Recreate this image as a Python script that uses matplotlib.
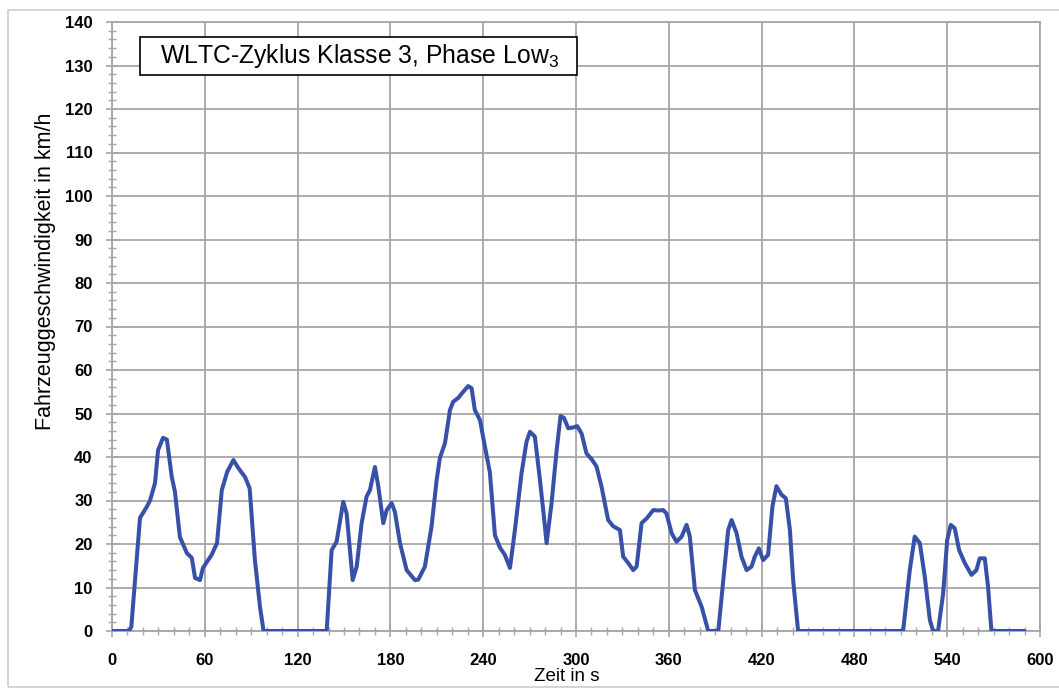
import matplotlib
matplotlib.use("Agg")
import matplotlib.pyplot as plt
from matplotlib.patches import Rectangle
from matplotlib.ticker import MultipleLocator

plt.rcParams['font.family'] = ['Liberation Sans', 'DejaVu Sans']
plt.rcParams['mathtext.fontset'] = 'custom'
plt.rcParams['mathtext.rm'] = 'Liberation Sans'

# Geschwindigkeitsverlauf (Zeit in s, km/h)
zeit = [0, 11, 12.5, 18.1, 22.4, 24.6, 27.8, 29.8, 33, 35.5, 38.6, 40.7, 43.9,
        48.4, 51.6, 53.7, 56.9, 58.8, 64.4, 67.9, 71, 74.5, 78.5, 81.6, 86, 89,
        92.4, 95.7, 98, 138.8, 142, 145.2, 149.5, 151.7, 155.6, 158.2, 161.4,
        164.6, 166.8, 170, 172.2, 175.4, 177.6, 180.8, 182.9, 186.2, 190.5,
        195.9, 198, 202.3, 206.6, 209.9, 212, 215.3, 218.5, 220.6, 223.9, 227.1,
        230.3, 232.5, 234.6, 237.9, 241.1, 244.3, 247.6, 250.8, 254, 257.3,
        260.5, 264.8, 268, 270.2, 273.4, 276.7, 278.8, 281, 284.2, 287.5, 290,
        292.2, 295, 298.2, 300.8, 303.6, 306.8, 310.1, 313.3, 316.5, 320.8, 324,
        328.4, 330.5, 333.8, 337, 339.2, 342.4, 345.7, 350, 353.2, 356.4, 358.5,
        361.8, 365, 368.3, 371.5, 373.6, 376.9, 381.2, 385.5, 392, 395.2, 398.4,
        400.6, 403.8, 407, 410.3, 413.5, 415.6, 418.2, 421, 424.2, 427, 429.6,
        432.9, 435.7, 438.3, 440.4, 443.6, 511.5, 515.8, 519, 522.3, 525.5,
        528.8, 530.9, 534.1, 537.4, 540, 542.3, 544.9, 547.7, 551.4, 555.7,
        558.9, 561, 564.3, 566.4, 568.6, 590]
geschw = [0, 0, 1, 26, 28.5, 30, 34, 41.6, 44.4, 44, 35.5, 32, 21.6,
          17.9, 16.8, 12.2, 11.7, 14.5, 17.5, 20.2, 32.4, 36.6, 39.3, 37.5, 35.4, 32.8,
          16.3, 5.5, 0, 0, 18.6, 20.5, 29.7, 27, 11.7, 14.8, 24.8,
          30.9, 32.4, 37.7, 33.2, 24.8, 27.8, 29.4, 27.4, 20.2, 14,
          11.7, 11.8, 14.8, 24, 34.7, 39.8, 43.2, 50.8, 52.7, 53.6, 55,
          56.3, 55.8, 50.8, 48.5, 42.4, 36.5, 22, 19.2, 17.5, 14.5,
          23.2, 36.3, 43.5, 45.8, 44.7, 34.7, 27.8, 20.2, 29.4, 41.6, 49.4,
          49, 46.6, 46.8, 47.1, 45.4, 40.8, 39.5, 37.8, 33.2, 25.5, 24.1,
          23.2, 17.1, 15.6, 14, 14.8, 24.8, 25.9, 27.8, 27.7, 27.8, 27,
          22.5, 20.5, 21.7, 24.4, 21.7, 9.4, 5.6, 0, 0, 11.7, 23.2,
          25.5, 22.5, 17.1, 14, 14.8, 17.1, 19, 16.3, 17.5, 28.6, 33.3,
          31.3, 30.5, 23.2, 11.7, 0, 0, 14, 21.7, 20.2, 12.5,
          2.5, 0, 0, 8.7, 20.9, 24.4, 23.6, 18.6, 15.6, 12.9,
          14, 16.7, 16.7, 10.2, 0, 0]

x_ticks = list(range(0, 601, 60))
y_ticks = list(range(0, 141, 10))

grau = '#a6a6a6'

fig = plt.figure(figsize=(10.59, 6.89), dpi=100)
# heller Rahmen um das ganze Bild
fig.patches.append(Rectangle((8 / 1059, 2 / 689), 1.1, 677 / 689, transform=fig.transFigure,
                             fill=False, edgecolor='#cccccc', linewidth=1.2))

ax = fig.add_axes([112 / 1059, 58 / 689, 928 / 1059, 609 / 689])
ax.plot(zeit, geschw, color='#3750a8', linewidth=2.9, solid_joinstyle='round',
        solid_capstyle='round', zorder=3)

ax.set_xlim(0, 600)
ax.set_ylim(0, 140)
ax.set_xticks(x_ticks)
ax.set_yticks(y_ticks)
ax.xaxis.set_minor_locator(MultipleLocator(10))
ax.yaxis.set_minor_locator(MultipleLocator(2))
ax.grid(True, which='major', color=grau, linewidth=1.3)
ax.tick_params(which='major', direction='inout', length=8, width=1.2, color=grau,
               labelsize=12)
ax.tick_params(axis='y', which='major', pad=10)
ax.tick_params(axis='x', which='major', pad=12)
ax.tick_params(which='minor', direction='inout', length=6, width=1.0, color=grau)
for lab in ax.get_xticklabels() + ax.get_yticklabels():
    lab.set_fontweight('bold')
for s in ax.spines.values():
    s.set_color(grau)
    s.set_linewidth(1.3)

ax.set_ylabel('Fahrzeuggeschwindigkeit in km/h', fontsize=15.5)
ax.yaxis.set_label_coords(-0.060, 0.59)
ax.set_xlabel('Zeit in s', fontsize=13.5)
ax.xaxis.set_label_coords(0.49, -0.060)

# Titelkasten
ax.add_patch(Rectangle((0.0302, 0.913), 0.471, 0.062, transform=ax.transAxes,
                       facecolor='white', edgecolor='black', linewidth=1.2, zorder=5))
ax.text(0.0517, 0.944, 'WLTC-Zyklus Klasse 3, Phase Low$_\\mathrm{3}$', transform=ax.transAxes,
        fontsize=17.8, va='center', ha='left', zorder=6)

fig.savefig('out.png', dpi=100)
